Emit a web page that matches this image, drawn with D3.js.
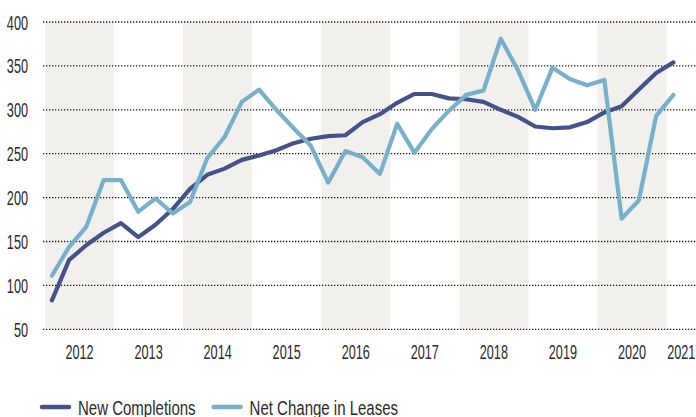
<!DOCTYPE html>
<html>
<head>
<meta charset="utf-8">
<script src="https://cdn.jsdelivr.net/npm/d3@7"></script>
<style>
    html, body { margin: 0; padding: 0; background: #fff; }
    svg { display: block; }
    text { font-family: "Liberation Sans", Arial, sans-serif; fill: #2b2b2b; }
</style>
</head>
<body>
<div id="chart"></div>
<script>
// --- data (quarterly, 2012 Q1 .. 2021 Q1)
const years = [2012, 2013, 2014, 2015, 2016, 2017, 2018, 2019, 2020, 2021];
const yTicks = [50, 100, 150, 200, 250, 300, 350, 400];
const newCompletions = [83, 129, 146, 160, 171, 155, 169, 187, 210, 226, 233, 243, 248, 254, 262, 267, 270, 271,
    286, 295, 308, 318, 318, 313, 312, 309, 300, 292, 281, 279, 280, 286, 297, 304, 323, 342, 354];
const netLeases = [111, 144, 167, 220, 220, 184, 199, 182, 195, 245, 269, 309, 323, 300, 279, 259, 217, 253,
    246, 227, 284, 251, 278, 299, 317, 322, 381, 345, 300, 348, 335, 328, 334, 176, 197, 293, 317];
const seriesNames = ["New Completions", "Net Change in Leases"];
const seriesColors = ["#43538a", "#77b0cb"];

// quarter index -> fractional year
const periods = newCompletions.map((d, i) => years[0] + Math.floor(i / 4) + (i % 4) * 0.25 + 0.1);

const dimensions = {
    width: 696,
    height: 417,
    plotLeft: 43,
    plotTop: 22,
    plotBottom: 329.3
};

// the reference uses a condensed face, so squeeze a regular one
const digitSqueeze = 0.65;
const legendSqueeze = 0.77;

const svg = d3.select("#chart").append("svg")
    .attr("width", dimensions.width)
    .attr("height", dimensions.height);

const x = d3.scaleLinear()
    .domain([2012, 2021])
    .range([45, 666.5]);

const y = d3.scaleLinear()
    .domain([50, 400])
    .range([dimensions.plotBottom, dimensions.plotTop]);

// alternating year bands
svg.append("g")
    .selectAll("rect")
    .data(years.filter((yr, i) => i % 2 === 0 && yr < 2021))
    .join("rect")
        .attr("x", d => x(d))
        .attr("width", d => x(d + 1) - x(d))
        .attr("y", y(400))
        .attr("height", y(50) - y(400))
        .attr("fill", "#f1f0ed");

// dotted gridlines
svg.append("g")
    .selectAll("line")
    .data(yTicks)
    .join("line")
        .attr("x1", dimensions.plotLeft)
        .attr("x2", dimensions.width)
        .attr("y1", d => y(d))
        .attr("y2", d => y(d))
        .attr("stroke", "#1a1a1a")
        .attr("stroke-width", 1.3)
        .attr("stroke-dasharray", "1.3,1.7");

// y labels
const yAxis = svg.append("g")
    .attr("transform", "translate(28,0)")
    .call(d3.axisLeft(y).tickValues(yTicks).tickSize(0).tickPadding(0));
yAxis.select(".domain").remove();
yAxis.selectAll("text")
    .attr("font-size", 19.5)
    .attr("font-family", null)
    .attr("dy", "0.36em")
    .attr("transform", `scale(${digitSqueeze},1)`)
    .attr("fill", "#2b2b2b");

// x labels, centred in each year
const xLabelPos = d => d < 2021 ? x(d + 0.5) : (x(d) + dimensions.width) / 2;
svg.append("g")
    .selectAll("text")
    .data(years)
    .join("text")
        .attr("transform", d => `translate(${xLabelPos(d)},359) scale(${digitSqueeze},1)`)
        .attr("text-anchor", "middle")
        .attr("font-size", 19.5)
        .text(d => d);

// lines
const line = d3.line()
    .x((d, i) => x(periods[i]))
    .y(d => y(d));

[newCompletions, netLeases].forEach((values, k) => {
    svg.append("path")
        .datum(values)
        .attr("fill", "none")
        .attr("stroke", seriesColors[k])
        .attr("stroke-width", 4.2)
        .attr("stroke-linejoin", "round")
        .attr("stroke-linecap", "round")
        .attr("d", line);
});

// legend
const legend = svg.append("g").attr("transform", "translate(40,0)");
let lx = 0;
seriesNames.forEach((name, k) => {
    legend.append("line")
        .attr("x1", lx + 2).attr("x2", lx + 29)
        .attr("y1", 407).attr("y2", 407)
        .attr("stroke", seriesColors[k])
        .attr("stroke-width", 4.5)
        .attr("stroke-linecap", "round");
    const t = legend.append("text")
        .attr("transform", `translate(${lx + 38},414.5) scale(${legendSqueeze},1)`)
        .attr("font-size", 19.5)
        .text(name);
    lx += 38 + t.node().getComputedTextLength() * legendSqueeze + 16;
});
</script>
</body>
</html>
